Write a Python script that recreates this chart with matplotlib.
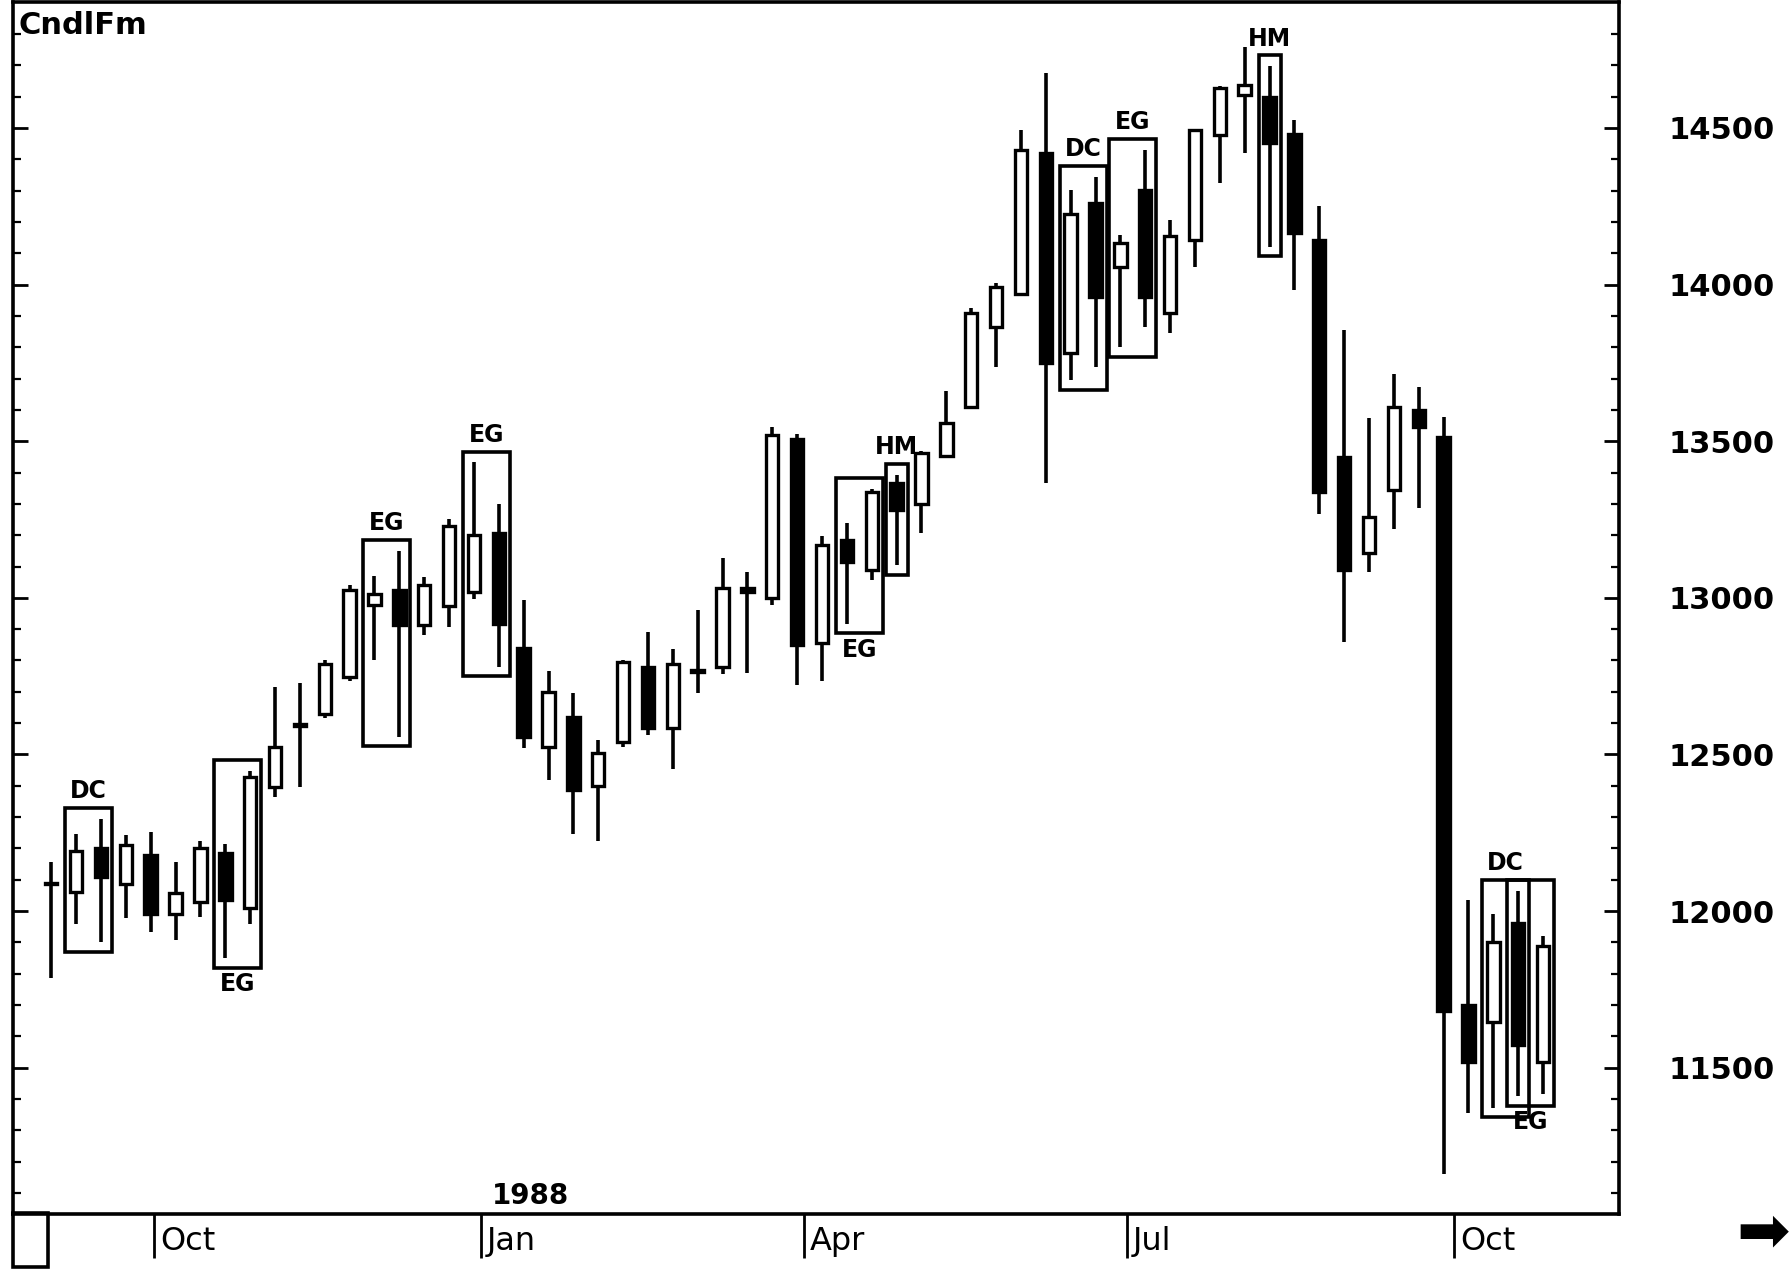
import matplotlib
matplotlib.use('Agg')
import matplotlib.pyplot as plt
import matplotlib.dates as mdates
from matplotlib.patches import Rectangle
from matplotlib.transforms import blended_transform_factory, ScaledTranslation
import pandas as pd

# ---------------- data ----------------
dates = pd.date_range('1987-09-02', periods=61, freq='7D')
opens = [12090, 12061, 12203, 12087, 12178, 11992, 12028, 12185, 12010, 12397,
         12595, 12630, 12747, 12976, 13024, 12914, 12973, 13020, 13206, 12841,
         12524, 12619, 12400, 12539, 12779, 12583, 12770, 12779, 13030, 12998,
         13508, 12856, 13184, 13089, 13366, 13301, 13454, 13610, 13866, 13971,
         14420, 13782, 14259, 14055, 14303, 13909, 14143, 14478, 14605, 14598,
         14482, 14143, 13450, 13144, 13344, 13599, 13512, 11700, 11646, 11963,
         11518]
highs = [12156, 12247, 12295, 12244, 12251, 12156, 12225, 12214, 12448, 12714,
         12728, 12801, 13042, 13071, 13151, 13067, 13253, 13432, 13301, 12994,
         12768, 12695, 12546, 12801, 12892, 12838, 12962, 13126, 13082, 13545,
         13523, 13198, 13239, 13348, 13392, 13468, 13661, 13924, 14004, 14492,
         14675, 14303, 14343, 14157, 14431, 14205, 14496, 14635, 14759, 14697,
         14525, 14252, 13855, 13574, 13716, 13672, 13578, 12036, 11992, 12065,
         11919]
lows = [11788, 11959, 11901, 11977, 11934, 11908, 11981, 11850, 11959, 12364,
        12397, 12615, 12736, 12801, 12557, 12881, 12907, 12995, 12779, 12521,
        12418, 12247, 12225, 12524, 12561, 12455, 12695, 12757, 12761, 12976,
        12721, 12736, 12918, 13056, 13104, 13206, 13450, 13603, 13738, 13968,
        13366, 13694, 13738, 13800, 13866, 13844, 14055, 14325, 14420, 14121,
        13982, 13268, 12860, 13082, 13220, 13286, 11161, 11354, 11372, 11409,
        11416]
closes = [12085, 12193, 12109, 12211, 11992, 12058, 12203, 12036, 12429, 12524,
          12590, 12790, 13024, 13013, 12914, 13042, 13228, 13200, 12918, 12557,
          12699, 12386, 12506, 12794, 12586, 12790, 12762, 13031, 13018, 13519,
          12849, 13169, 13115, 13337, 13279, 13461, 13559, 13909, 13993, 14431,
          13749, 14226, 13960, 14132, 13960, 14154, 14492, 14627, 14638, 14452,
          14164, 13337, 13089, 13257, 13610, 13545, 11682, 11518, 11901, 11573,
          11890]

month_tick_dates = ['1987-10-01', '1988-01-01', '1988-04-01', '1988-07-01', '1988-10-01']
month_labels = ['Oct', 'Jan', 'Apr', 'Jul', 'Oct']
y_major = [11500, 12000, 12500, 13000, 13500, 14000, 14500]
# pattern label, first candle, last candle, label side
pattern_labels = ['DC', 'EG', 'EG', 'EG', 'EG', 'HM', 'DC', 'EG', 'HM', 'DC', 'EG']
pattern_first = [1, 7, 13, 17, 32, 34, 41, 43, 49, 58, 59]
pattern_last = [2, 8, 14, 18, 33, 34, 42, 44, 49, 59, 60]
pattern_side = ['above', 'below', 'above', 'above', 'below', 'above', 'above',
                'above', 'above', 'above', 'below']
title_text = 'CndlFm'
year_text = '1988'

# ---------------- figure ----------------
plt.rcParams['font.family'] = ['DejaVu Sans']
fig = plt.figure(figsize=(17.9, 12.72), dpi=100)
ax = fig.add_axes([0.0070, 0.0458, 0.8973, 0.9524])

x = mdates.date2num(dates)
body_w = 3.5
for xi, o, h, l, c in zip(x, opens, highs, lows, closes):
    ax.vlines(xi, l, h, color='black', lw=2.6, zorder=2)
    bottom = min(o, c)
    height = abs(c - o)
    fc = 'black' if c < o else 'white'
    ax.add_patch(Rectangle((xi - body_w / 2, bottom), body_w, max(height, 6),
                           facecolor=fc, edgecolor='black', lw=2.4, zorder=3))

# pattern boxes
for lab, i0, i1, side in zip(pattern_labels, pattern_first, pattern_last, pattern_side):
    top = max(highs[i0:i1 + 1]) + 35
    bot = min(lows[i0:i1 + 1]) - 30
    x0 = x[i0] - 3.1
    x1 = x[i1] + 3.1
    ax.add_patch(Rectangle((x0, bot), x1 - x0, top - bot, facecolor='none',
                           edgecolor='black', lw=2.6, zorder=4))
    xc = (x0 + x1) / 2
    if side == 'above':
        ax.text(xc, top + 15, lab, ha='center', va='bottom', fontsize=17,
                fontweight='bold', zorder=5)
    else:
        ax.text(xc, bot - 15, lab, ha='center', va='top', fontsize=17,
                fontweight='bold', zorder=5)

# limits
ax.set_xlim(x[0] - 10.9, x[0] + 441.3)
ax.set_ylim(11034, 14901)

for sp in ax.spines.values():
    sp.set_linewidth(2.6)

# y axis: labels on right, ticks inside on both sides
ax.yaxis.tick_right()
ax.set_yticks(y_major)
ax.set_yticklabels([str(v) for v in y_major], fontsize=22, fontweight='bold')
ax.set_yticks(range(11100, 14900, 100), minor=True)
ax.tick_params(axis='y', which='major', direction='in', length=11, width=2,
               left=True, right=True, pad=36)
ax.tick_params(axis='y', which='minor', direction='in', length=6, width=1.6,
               left=True, right=True)

# x axis: month ticks hanging below, labels to the right of tick
mt = mdates.date2num(pd.to_datetime(month_tick_dates))
ax.set_xticks(mt)
ax.set_xticklabels([])
ax.tick_params(axis='x', which='major', direction='out', length=32, width=2)
trans = blended_transform_factory(ax.transData, ax.transAxes)
off = ScaledTranslation(4 / 72, 0, fig.dpi_scale_trans)
for t, lab in zip(mt, month_labels):
    ax.text(t, -0.023, lab, transform=trans + off, ha='left', va='center',
            fontsize=23)
ax.text(mt[1], 0.003, year_text, transform=trans + ScaledTranslation(8 / 72, 0, fig.dpi_scale_trans),
        ha='left', va='bottom', fontsize=20, fontweight='bold')

# title in the corner
ax.text(0.004, 0.993, title_text, transform=ax.transAxes, ha='left', va='top',
        fontsize=22, fontweight='bold')

# small square at bottom-left and arrow at bottom-right
fig.patches.append(Rectangle((0.0070, 0.004), 0.020, 0.042, transform=fig.transFigure,
                             facecolor='none', edgecolor='black', lw=2.6))
fig.text(0.985, 0.030, '\u27a1', ha='center', va='center', fontsize=46)

fig.savefig('out.png', dpi=100)
